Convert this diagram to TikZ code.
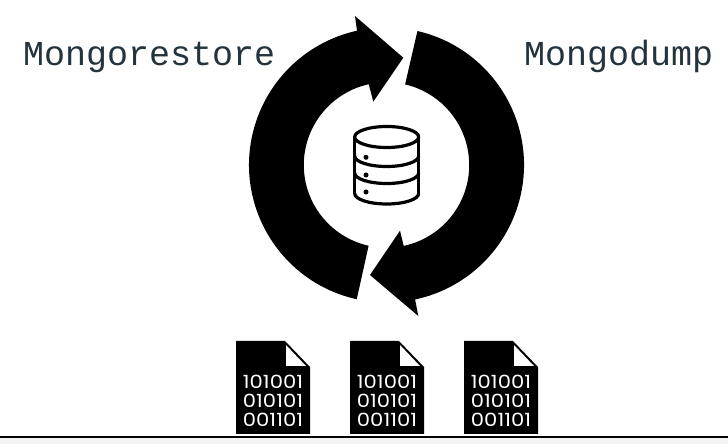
\documentclass[tikz,border=0pt]{standalone}
\usepackage{fontspec}
\usetikzlibrary{calc}
\newfontfamily\labelfont{Liberation Mono}
\newfontfamily\bitsfont[FakeStretch=1.16]{Poppins}
\definecolor{labelcol}{HTML}{24333C}
\definecolor{stripcol}{HTML}{F4F4F4}
\tikzset{
  toollabel/.style={anchor=base west,inner sep=0pt,text=labelcol,font=\labelfont\fontsize{35}{36}\selectfont},
  bits/.style={inner sep=0pt,text=white,align=center,font=\bitsfont\fontsize{18.2}{19}\selectfont},
  dbline/.style={line width=3.2pt,line cap=round,line join=round}
}
\begin{document}
\begin{tikzpicture}[x=1pt,y=1pt]
\useasboundingbox (0,0) rectangle (728,444);
\coordinate (c) at (386.5,279);
\fill [stripcol] (0,0) rectangle (728,7);
\draw [line width=1.2pt] (0,7)--(728,7);
% the two big arrows:
\fill (c) ++(77:137.5) arc [start angle=77,end angle=-78,radius=137.5]
  --(418.3,128)--(370,169)--(400,213.3)--($(c)+(-78:82.7)$)
  arc [start angle=-78,end angle=77,radius=82.7]--cycle;
\fill (c) ++(257.5:137.5) arc [start angle=257.5,end angle=102.4,radius=137.5]
  --(355,428)--(403.3,386.3)--(373.3,342.3)--($(c)+(102.4:82.7)$)
  arc [start angle=102.4,end angle=257.5,radius=82.7]--cycle;
\node [toollabel] (restore) at (23,378) {Mongorestore};
\node [toollabel] (dump) at (524,378) {Mongodump};
% the database:
\draw [dbline] (386.7,307) ellipse [x radius=32,y radius=10.5];
\draw [dbline] (354.7,307)--(354.7,250.5);
\draw [dbline] (418.7,307)--(418.7,250.5);
\draw [dbline] (354.7,288) arc [start angle=180,end angle=360,x radius=32,y radius=10.5];
\draw [dbline] (354.7,271) arc [start angle=180,end angle=360,x radius=32,y radius=10.5];
\draw [dbline] (354.7,250.5) arc [start angle=180,end angle=360,x radius=32,y radius=10.5];
\foreach \doty in {286.7,269,252}
  \fill (366,\doty) circle [radius=2.5];
% the files:
\foreach \filex/\filename in {236/one,350/two,464/three} {
  \fill (\filex,10)--(\filex,103)--(\filex+49,103)--(\filex+74,77)--(\filex+74,10)--cycle;
  \fill [white] (\filex+50,99)--(\filex+50,78)--(\filex+70,78)--cycle;
  \node [bits] (\filename) at (\filex+37,43.3) {101001\\010101\\001101};
}
\end{tikzpicture}
\end{document}
